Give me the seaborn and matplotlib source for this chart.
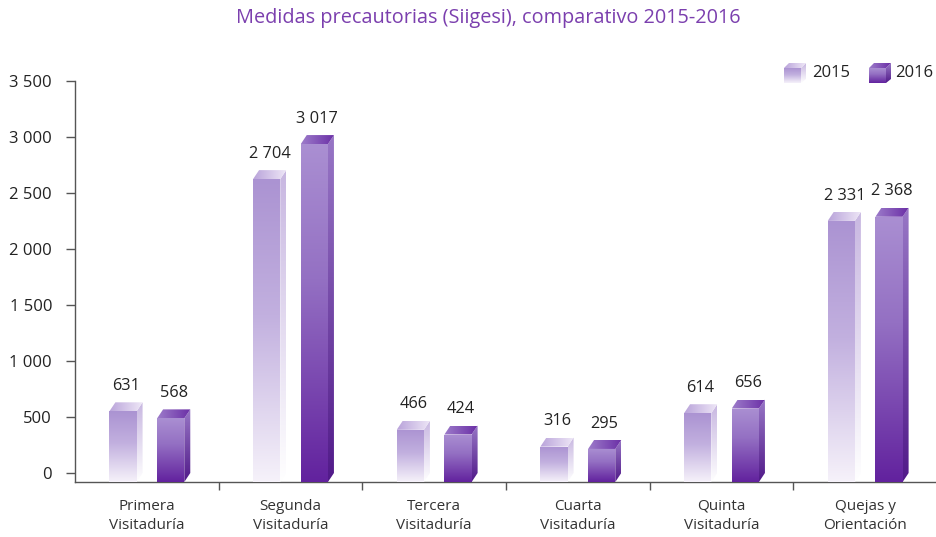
import numpy as np
import pandas as pd
import matplotlib
matplotlib.use("Agg")
import matplotlib.pyplot as plt
import seaborn as sns
from matplotlib.patches import Polygon
from matplotlib.colors import to_rgb
from matplotlib.transforms import ScaledTranslation

categories = ["Primera\nVisitaduría", "Segunda\nVisitaduría", "Tercera\nVisitaduría",
              "Cuarta\nVisitaduría", "Quinta\nVisitaduría", "Quejas y\nOrientación"]
values_2015 = [631, 2704, 466, 316, 614, 2331]
values_2016 = [568, 3017, 424, 295, 656, 2368]
years = ["2015", "2016"]
y_ticks = [0, 500, 1000, 1500, 2000, 2500, 3000, 3500]
title = "Medidas precautorias (Siigesi), comparativo 2015-2016"

sns.set_theme(style="white")
plt.rcParams["font.family"] = ["Open Sans", "DejaVu Sans"]

W, H = 937, 537
fig = plt.figure(figsize=(W / 100, H / 100), dpi=100)
ax = fig.add_axes([75 / W, 55 / H, 862 / W, 401 / H])

df = pd.DataFrame({
    "cat": categories * 2,
    "val": values_2015 + values_2016,
    "year": [years[0]] * len(categories) + [years[1]] * len(categories),
})
sns.barplot(data=df, x="cat", y="val", hue="year", order=categories, hue_order=years,
            width=0.664, gap=0.43, ax=ax, legend=False,
            palette=["#b09ad5", "#7a3fb0"], errorbar=None)

YMAX = 3580
ax.set_xlim(-0.5, 5.5)
ax.set_ylim(0, YMAX)

# pixel -> data scale
px_x = 6.0 / 862
px_y = YMAX / 401.0
DX = 6 * px_x
DY = 9 * px_y


def grad_poly(axis, verts, stops, direction="v", zorder=3):
    """stops: list of (position, color); position 0 = top (v) or left (h)."""
    poly = Polygon(verts, closed=True, facecolor="none", edgecolor="none",
                   transform=axis.transData)
    axis.add_patch(poly)
    xs = [v[0] for v in verts]
    ys = [v[1] for v in verts]
    t = np.linspace(0, 1, 256)
    pos = [s[0] for s in stops]
    rgb = np.array([to_rgb(s[1]) for s in stops])
    cols = np.stack([np.interp(t, pos, rgb[:, k]) for k in range(3)], axis=1)
    arr = cols[:, None, :] if direction == "v" else cols[None, :, :]
    im = axis.imshow(arr, extent=[min(xs), max(xs), min(ys), max(ys)], aspect="auto",
                     origin="upper", interpolation="bilinear", zorder=zorder)
    im.set_clip_path(poly)


styles = {
    "2015": dict(front=[(0, "#ab93d2"), (0.45, "#c2b0df"), (1, "#f6f2fa")],
                 side=[(0, "#c8b7e1"), (1, "#ffffff")],
                 top=[(0, "#b9a3da"), (1, "#efe8f7")]),
    "2016": dict(front=[(0, "#aa8fd2"), (0.4, "#9470c3"), (1, "#62229e")],
                 side=[(0, "#9877c6"), (1, "#511a89")],
                 top=[(0, "#9d7cca"), (1, "#6a2ea6")]),
}

label_color = "#222222"
for yr, cont in zip(years, ax.containers):
    st = styles[yr]
    for p in cont:
        x0 = p.get_x()
        x1 = x0 + p.get_width()
        h = p.get_height()
        p.set_facecolor("none")
        p.set_edgecolor("none")
        grad_poly(ax, [(x0, 0), (x1, 0), (x1, h), (x0, h)], st["front"], "v")
        grad_poly(ax, [(x1, 0), (x1 + DX, DY), (x1 + DX, h + DY), (x1, h)], st["side"], "v")
        grad_poly(ax, [(x0, h), (x1, h), (x1 + DX, h + DY), (x0 + DX, h + DY)], st["top"], "h")
        ax.annotate(f"{int(h):,}".replace(",", " "), xy=((x0 + x1) / 2 + DX / 2, h + DY),
                    xytext=(0, 6), textcoords="offset points", ha="center", va="bottom",
                    fontsize=11.8, color=label_color)

ax.set_xlim(-0.5, 5.5)
ax.set_ylim(0, YMAX)
ax.set_xlabel("")
ax.set_ylabel("")

for s in ["top", "right"]:
    ax.spines[s].set_visible(False)
for s in ["left", "bottom"]:
    ax.spines[s].set_color("#555555")
    ax.spines[s].set_linewidth(1.0)

ax.set_xticks(range(len(categories)))
ax.set_xticklabels(categories, fontsize=11, color="#333333", linespacing=1.35)
ax.set_xticks([i + 0.5 for i in range(len(categories) - 1)], minor=True)
ax.tick_params(axis="x", which="major", length=0, pad=12)
ax.tick_params(axis="x", which="minor", length=6, width=1, color="#555555", direction="out", bottom=True)

ax.set_yticks(y_ticks)
ax.set_yticklabels([f"{v:,}".replace(",", " ") for v in y_ticks], fontsize=12, color="#222222")
ax.tick_params(axis="y", which="major", length=6.5, width=1, color="#555555", direction="out",
               left=True, pad=10)

off = ScaledTranslation(0, 0.09, fig.dpi_scale_trans)
for t in ax.yaxis.get_major_ticks():
    t.label1.set_transform(t.label1.get_transform() + off)
    t.tick1line.set_transform(t.tick1line.get_transform() + off)

# title
fig.text(488 / W, 1 - 18 / H, title, ha="center", va="center", fontsize=14.3, color="#7b3fae")

# legend (cube icons + text)
for yr, x_icon, x_text in [("2015", 782, 812), ("2016", 867, 895)]:
    st = styles[yr]
    lax = fig.add_axes([x_icon / W, (H - 85) / H, 26 / W, 24 / H])
    lax.set_xlim(0, 26)
    lax.set_ylim(0, 24)
    lax.axis("off")
    grad_poly(lax, [(2, 2), (19, 2), (19, 17), (2, 17)], st["front"], "v")
    grad_poly(lax, [(19, 2), (24, 6), (24, 22), (19, 17)], st["side"], "v")
    grad_poly(lax, [(2, 17), (19, 17), (24, 22), (7, 22)], st["top"], "h")
    lax.set_xlim(0, 26)
    lax.set_ylim(0, 24)
    fig.text(x_text / W, 1 - 73 / H, yr, ha="left", va="center", fontsize=12, color="#222222")

fig.savefig("out.png", dpi=100)
